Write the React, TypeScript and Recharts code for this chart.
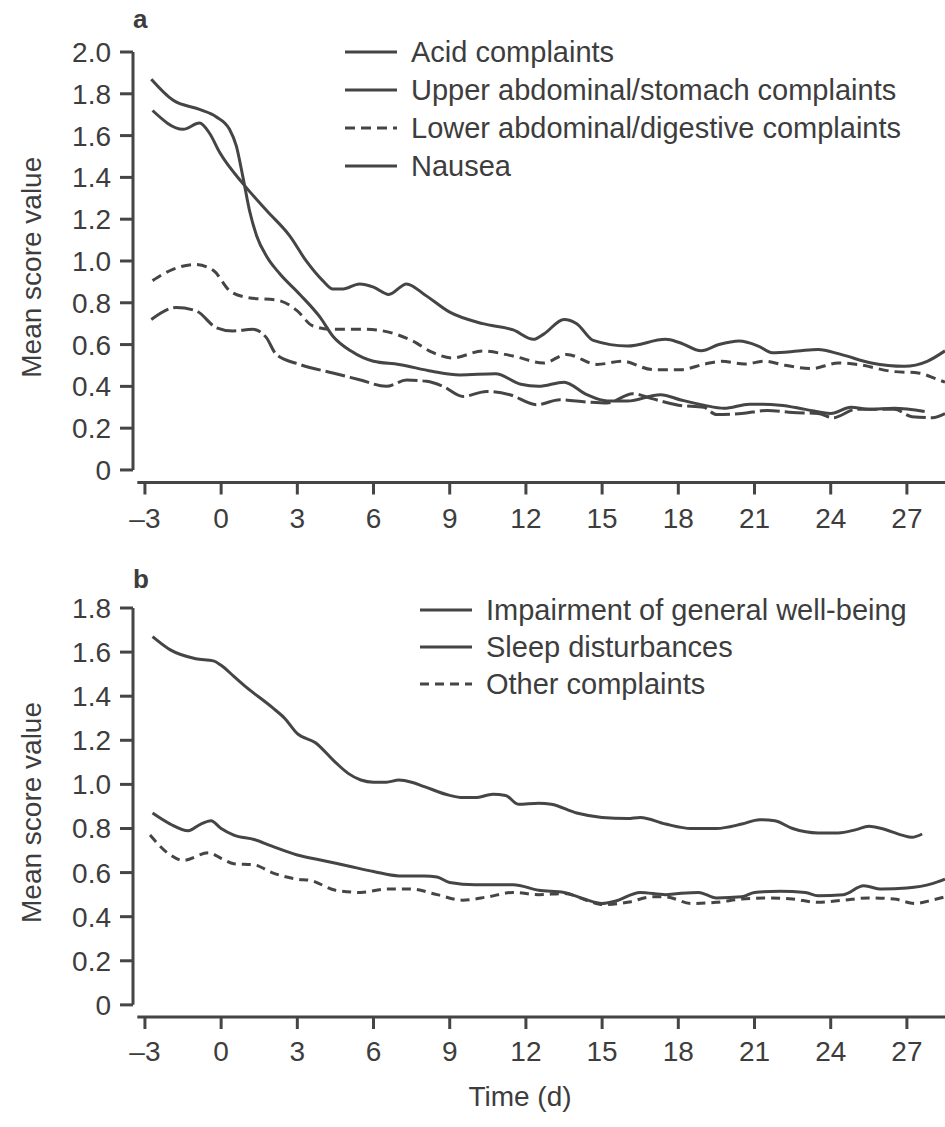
import React from 'react';
import { LineChart, Line, XAxis, YAxis, ReferenceLine } from 'recharts';

const FONT = '"Liberation Sans", Arial, sans-serif';
const INK = '#3d3d3d';
const LINE = '#454545';

const dayTicks = [-3, 0, 3, 6, 9, 12, 15, 18, 21, 24, 27];
const scoreTicksA = [0, 0.2, 0.4, 0.6, 0.8, 1.0, 1.2, 1.4, 1.6, 1.8, 2.0];
const scoreTicksB = [0, 0.2, 0.4, 0.6, 0.8, 1.0, 1.2, 1.4, 1.6, 1.8];

// panel a
const acidDays = [-2.7, -1.5, -0.85, -0.45, -0.06, 0.86, 1.8, 2.7, 3.35, 4.0, 4.4, 4.8, 5.45, 6.0, 6.6, 7.3, 8.0, 9.0, 10.3, 11.5, 12.3, 12.7, 13.5, 14.0, 14.65, 16.0, 17.5, 18.06, 18.9, 19.6, 20.4, 21.15, 21.7, 22.7, 23.5, 24.4, 25.6, 26.9, 27.8, 28.5];
const acidScores = [1.72, 1.63, 1.66, 1.61, 1.52, 1.37, 1.24, 1.12, 1.0, 0.906, 0.866, 0.866, 0.89, 0.875, 0.84, 0.89, 0.84, 0.755, 0.70, 0.67, 0.625, 0.65, 0.72, 0.70, 0.62, 0.593, 0.625, 0.609, 0.57, 0.60, 0.617, 0.593, 0.561, 0.569, 0.577, 0.553, 0.512, 0.496, 0.52, 0.57];

const upperDays = [-2.75, -1.9, -0.85, -0.2, 0.33, 0.6, 0.86, 1.12, 1.4, 1.8, 2.3, 3.1, 3.9, 4.4, 5.1, 6.0, 7.0, 8.3, 9.4, 10.8, 11.8, 12.5, 13.5, 14.4, 15.2, 16.0, 17.3, 18.1, 19.0, 19.8, 20.8, 22.0, 23.0, 24.0, 24.8, 25.5, 26.5, 27.7];
const upperScores = [1.87, 1.77, 1.725, 1.69, 1.63, 1.55, 1.40, 1.24, 1.12, 1.02, 0.94, 0.84, 0.73, 0.64, 0.57, 0.52, 0.505, 0.472, 0.455, 0.46, 0.41, 0.40, 0.42, 0.36, 0.33, 0.33, 0.36, 0.335, 0.31, 0.295, 0.315, 0.31, 0.29, 0.27, 0.30, 0.29, 0.295, 0.28];

const lowerDays = [-2.7, -1.9, -1.0, -0.3, 0.33, 1.0, 2.3, 3.0, 3.6, 4.4, 5.7, 6.9, 7.5, 8.35, 9.1, 10.3, 11.5, 12.7, 13.6, 14.8, 15.8, 17.0, 18.1, 19.05, 19.7, 20.6, 21.4, 22.2, 23.25, 24.3, 25.1, 26.4, 27.45, 28.23, 28.5];
const lowerScores = [0.906, 0.96, 0.983, 0.954, 0.858, 0.826, 0.81, 0.761, 0.69, 0.673, 0.673, 0.649, 0.62, 0.561, 0.536, 0.569, 0.545, 0.512, 0.553, 0.505, 0.52, 0.48, 0.48, 0.507, 0.52, 0.507, 0.52, 0.501, 0.485, 0.512, 0.504, 0.472, 0.464, 0.432, 0.42];

const nauseaDays = [-2.75, -1.77, -0.98, -0.19, 0.46, 1.25, 1.78, 2.17, 3.09, 4.4, 5.45, 6.5, 7.3, 8.1, 8.74, 9.53, 10.45, 11.37, 12.42, 13.34, 14.4, 15.2, 16.2, 17.0, 18.0, 19.0, 19.5, 20.5, 21.5, 22.5, 23.5, 24.1, 25.0, 25.8, 26.5, 27.2, 28.0, 28.5];
const nauseaScores = [0.72, 0.777, 0.761, 0.681, 0.665, 0.673, 0.633, 0.553, 0.505, 0.464, 0.432, 0.40, 0.43, 0.424, 0.40, 0.352, 0.376, 0.36, 0.312, 0.336, 0.325, 0.32, 0.365, 0.34, 0.31, 0.30, 0.265, 0.27, 0.285, 0.275, 0.27, 0.25, 0.29, 0.29, 0.29, 0.255, 0.25, 0.27];

// panel b
const wellDays = [-2.7, -2, -1, -0.3, 0, 0.5, 1, 2, 2.5, 3, 3.7, 4.5, 5, 5.5, 6, 6.5, 7, 7.5, 8, 9, 9.5, 10, 10.7, 11.2, 11.7, 12.5, 13, 14, 15, 16, 16.5, 17.5, 18.5, 19.5, 20.5, 21.2, 21.8, 22.5, 23.5, 24.3, 25, 25.5, 26, 26.8, 27.2, 27.6];
const wellScores = [1.67, 1.61, 1.57, 1.56, 1.54, 1.49, 1.44, 1.35, 1.30, 1.23, 1.19, 1.10, 1.05, 1.02, 1.01, 1.01, 1.02, 1.01, 0.99, 0.95, 0.94, 0.94, 0.955, 0.95, 0.91, 0.915, 0.91, 0.87, 0.85, 0.845, 0.85, 0.82, 0.80, 0.80, 0.82, 0.84, 0.835, 0.80, 0.78, 0.78, 0.795, 0.81, 0.80, 0.77, 0.76, 0.775];

const sleepDays = [-2.7, -2, -1.3, -0.8, -0.4, 0, 0.5, 1.3, 2, 3, 4, 5, 6, 7, 8, 8.5, 9, 10, 11, 11.5, 12.5, 13.5, 14.3, 15, 15.5, 16.5, 17.5, 18, 18.8, 19.5, 20.5, 21, 22, 23, 23.5, 24.5, 25.3, 26, 27, 28, 28.5];
const sleepScores = [0.87, 0.82, 0.79, 0.82, 0.835, 0.80, 0.77, 0.75, 0.72, 0.68, 0.655, 0.63, 0.605, 0.585, 0.585, 0.58, 0.555, 0.545, 0.545, 0.545, 0.52, 0.51, 0.48, 0.46, 0.47, 0.51, 0.50, 0.505, 0.51, 0.485, 0.49, 0.51, 0.515, 0.51, 0.495, 0.50, 0.54, 0.525, 0.53, 0.55, 0.57];

const otherDays = [-2.8, -2, -1.5, -0.5, 0, 0.5, 1.3, 2, 3, 3.5, 4.5, 5.5, 6.5, 7.5, 8.5, 9.5, 10.5, 11.5, 12.5, 13.5, 14.5, 15, 16, 17, 17.5, 18.5, 19.5, 20.5, 21.5, 22.5, 23.5, 24.5, 25.5, 26.5, 27.3, 28, 28.5];
const otherScores = [0.77, 0.68, 0.655, 0.69, 0.665, 0.64, 0.635, 0.60, 0.57, 0.565, 0.52, 0.51, 0.525, 0.525, 0.50, 0.475, 0.49, 0.51, 0.50, 0.505, 0.47, 0.455, 0.465, 0.49, 0.49, 0.46, 0.465, 0.48, 0.485, 0.48, 0.465, 0.475, 0.485, 0.48, 0.46, 0.475, 0.49];

const toPoints = (days: number[], scores: number[]) =>
  days.map((t, i) => ({ t, v: scores[i] }));

type Series = {
  name: string;
  points: { t: number; v: number }[];
  dash?: string;
  legendDash?: string;
};

const seriesA: Series[] = [
  { name: 'Acid complaints', points: toPoints(acidDays, acidScores) },
  { name: 'Upper abdominal/stomach complaints', points: toPoints(upperDays, upperScores) },
  { name: 'Lower abdominal/digestive complaints', points: toPoints(lowerDays, lowerScores), dash: '10 6', legendDash: '10 6' },
  { name: 'Nausea', points: toPoints(nauseaDays, nauseaScores), dash: '20 5' },
];

const seriesB: Series[] = [
  { name: 'Impairment of general well-being', points: toPoints(wellDays, wellScores) },
  { name: 'Sleep disturbances', points: toPoints(sleepDays, sleepScores) },
  { name: 'Other complaints', points: toPoints(otherDays, otherScores), dash: '9 6', legendDash: '9 6' },
];

const X_MIN = -3.47;
const X_MAX = 28.5;

const fmtDay = (d: number) => (d < 0 ? '\u2013' + Math.abs(d) : String(d));
const fmtScore = (v: number) => (v === 0 ? '0' : v.toFixed(1));

const YTitle = (props: any) => {
  const vb = props.viewBox || {};
  const cy = vb.y + vb.height / 2;
  return (
    <text
      x={31}
      y={cy}
      transform={`rotate(-90, 31, ${cy})`}
      textAnchor="middle"
      dominantBaseline="central"
      fill={INK}
      fontSize={28}
      fontFamily={FONT}
    >
      Mean score value
    </text>
  );
};

type PanelProps = {
  top: number;
  height: number;
  marginTop: number;
  plotHeight: number;
  yMin: number;
  yMax: number;
  yTicks: number[];
  series: Series[];
  letter: string;
  legendTop: number;
  legendStep: number;
  legendX: number;
  xTickMargin: number;
  showTime?: boolean;
};

const Panel = (p: PanelProps) => {
  const xAxisHeight = p.height - p.marginTop - p.plotHeight;
  const axisStyle = { stroke: LINE, strokeWidth: 3 };
  return (
    <div style={{ position: 'absolute', left: 0, top: p.top, width: 945, height: p.height }}>
      <LineChart
        width={945}
        height={p.height}
        margin={{ top: p.marginTop, right: 0, bottom: 0, left: 0 }}
      >
        <XAxis
          type="number"
          dataKey="t"
          domain={[X_MIN, X_MAX]}
          ticks={dayTicks}
          tickFormatter={fmtDay}
          axisLine={false}
          tickLine={axisStyle}
          tickSize={12}
          tickMargin={p.xTickMargin}
          height={xAxisHeight}
          allowDataOverflow
          tick={{ fill: INK, fontSize: 28, fontFamily: FONT }}
          label={
            p.showTime
              ? { value: 'Time (d)', position: 'insideBottom', offset: 21, dx: -19, fill: INK, fontSize: 28, fontFamily: FONT }
              : undefined
          }
        />
        <YAxis
          type="number"
          domain={[p.yMin, p.yMax]}
          ticks={p.yTicks}
          tickFormatter={fmtScore}
          axisLine={false}
          tickLine={axisStyle}
          tickSize={13}
          tickMargin={9}
          width={133}
          allowDataOverflow
          tick={{ fill: INK, fontSize: 28, fontFamily: FONT }}
          label={{ content: (lp: any) => <YTitle {...lp} /> }}
        />
        <ReferenceLine
          segment={[{ x: X_MIN, y: 0 }, { x: X_MIN, y: p.yMax }]}
          stroke={LINE}
          strokeWidth={3}
          ifOverflow="visible"
        />
        <ReferenceLine
          segment={[{ x: -3.3, y: p.yMin }, { x: X_MAX, y: p.yMin }]}
          stroke={LINE}
          strokeWidth={3}
          ifOverflow="visible"
        />
        {p.series.map((s) => (
          <Line
            key={s.name}
            data={s.points}
            dataKey="v"
            name={s.name}
            type="monotone"
            stroke={LINE}
            strokeWidth={3}
            strokeDasharray={s.dash}
            dot={false}
            activeDot={false}
            isAnimationActive={false}
          />
        ))}
      </LineChart>
      <div
        style={{
          position: 'absolute',
          left: 133,
          top: 4,
          fontFamily: FONT,
          fontWeight: 'bold',
          fontSize: 26,
          color: INK,
        }}
      >
        {p.letter}
      </div>
      <svg
        width={945}
        height={p.height}
        style={{ position: 'absolute', left: 0, top: 0, pointerEvents: 'none' }}
      >
        {p.series.map((s, i) => {
          const y = p.legendTop + i * p.legendStep;
          return (
            <g key={s.name}>
              <line
                x1={p.legendX}
                x2={p.legendX + 52}
                y1={y}
                y2={y}
                stroke={LINE}
                strokeWidth={3}
                strokeDasharray={s.legendDash}
              />
              <text
                x={p.legendX + 66}
                y={y}
                dominantBaseline="central"
                fill={INK}
                fontSize={29}
                fontFamily={FONT}
              >
                {s.name}
              </text>
            </g>
          );
        })}
      </svg>
    </div>
  );
};

export default function App() {
  return (
    <div
      style={{
        position: 'absolute',
        left: 0,
        top: 0,
        width: 945,
        height: 1127,
        background: '#fff',
        overflow: 'hidden',
      }}
    >
      <Panel
        top={0}
        height={545}
        marginTop={52}
        plotHeight={430.5}
        yMin={-0.06}
        yMax={2.0}
        yTicks={scoreTicksA}
        series={seriesA}
        letter="a"
        legendTop={52}
        legendStep={38}
        legendX={345}
        xTickMargin={14}
      />
      <Panel
        top={560}
        height={567}
        marginTop={48}
        plotHeight={409}
        yMin={-0.055}
        yMax={1.8}
        yTicks={scoreTicksB}
        series={seriesB}
        letter="b"
        legendTop={50}
        legendStep={37}
        legendX={420}
        xTickMargin={12}
        showTime
      />
    </div>
  );
}
